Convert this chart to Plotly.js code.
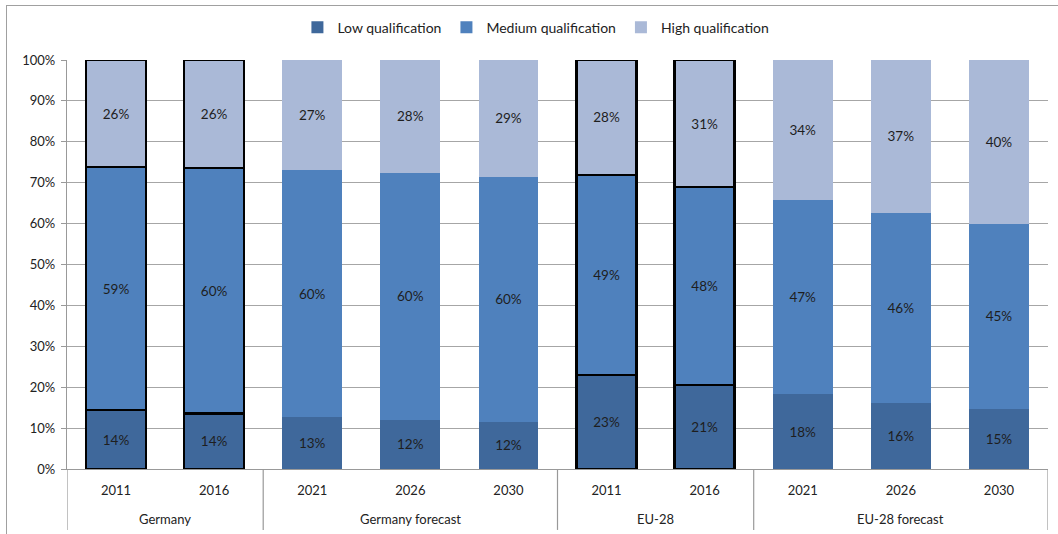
<!DOCTYPE html>
<html>
<head>
<meta charset="utf-8">
<script src="https://cdn.plot.ly/plotly-3.0.1.min.js"></script>
<style>
html,body{margin:0;padding:0;background:#fff;}
#wrap{position:absolute;left:6px;top:5px;width:1060px;height:540px;border:1.5px solid #a0a0a0;box-sizing:border-box;}
#chart{position:absolute;left:0;top:0;width:1058px;height:534px;}
</style>
</head>
<body>
<div id="wrap"></div>
<div id="chart"></div>
<script>
const groups = ["Germany","Germany","Germany forecast","Germany forecast","Germany forecast","EU-28","EU-28","EU-28 forecast","EU-28 forecast","EU-28 forecast"];
const years = ["2011","2016","2021","2026","2030","2011","2016","2021","2026","2030"];
const lowQ = [14.4, 13.6, 12.7, 12.0, 11.5, 23.0, 20.5, 18.3, 16.2, 14.7];
const medQ = [59.4, 60.0, 60.4, 60.4, 59.9, 48.9, 48.4, 47.4, 46.4, 45.2];
const highQ = [26.2, 26.4, 26.9, 27.6, 28.6, 28.1, 31.1, 34.3, 37.4, 40.1];
const actual = [true, true, false, false, false, true, true, false, false, false];

const colors = {low:"#3F689B", med:"#4F81BD", high:"#AAB9D7"};
const lineW = actual.map(a => a ? 2.5 : 0);
const cats = groups.map((g, i) => g + " " + years[i]);

function mk(name, vals, color){
  return {
    type:"bar", name:name,
    x:cats,
    y:vals.map(v => v/100),
    text:vals.map(v => Math.round(v) + "%"),
    textposition:"inside", insidetextanchor:"middle",
    textfont:{family:"Lato, sans-serif", size:13.5, color:"#1e1e1e"},
    constraintext:"none",
    marker:{color:color, line:{color:"#000", width:lineW}},
    showlegend:false,
    hoverinfo:"skip"
  };
}
function lg(name, color){
  return {type:"bar", name:name, x:[cats[0]], y:[null], marker:{color:color}, showlegend:true, hoverinfo:"skip"};
}
const data = [
  mk("Low qualification", lowQ, colors.low),
  mk("Medium qualification", medQ, colors.med),
  mk("High qualification", highQ, colors.high),
  lg("Low qualification", colors.low),
  lg("Medium qualification", colors.med),
  lg("High qualification", colors.high)
];

// group spans from the groups array
const spans = [];
groups.forEach((g, i) => {
  if (!spans.length || spans[spans.length-1].name !== g) spans.push({name:g, start:i, end:i});
  else spans[spans.length-1].end = i;
});
const shapes = [];
const annotations = [];
const divBottom = -0.149;
spans.forEach((s, k) => {
  if (k === 0) shapes.push({type:"line", xref:"x", yref:"paper", x0:s.start-0.5, x1:s.start-0.5, y0:0, y1:divBottom, line:{color:"#999", width:1.2}});
  shapes.push({type:"line", xref:"x", yref:"paper", x0:s.end+0.5, x1:s.end+0.5, y0:0, y1:divBottom, line:{color:"#999", width:1.2}});
  annotations.push({xref:"x", yref:"paper", x:(s.start+s.end)/2, y:-0.122, yanchor:"middle", xanchor:"center", showarrow:false, text:s.name, font:{size:13, color:"#222"}});
});

const layout = {
  width:1058, height:534,
  margin:{l:67, r:10, t:60, b:65},
  paper_bgcolor:"rgba(0,0,0,0)", plot_bgcolor:"#fff",
  barmode:"stack", bargap:0.39,
  font:{family:"Lato, sans-serif", size:13, color:"#222"},
  showlegend:true,
  legend:{orientation:"h", x:0.478, xanchor:"center", y:1.04, yanchor:"bottom", font:{size:14}, traceorder:"normal", itemwidth:30},
  xaxis:{type:"category", range:[-0.5, 9.5], tickvals:cats, ticktext:years, showline:true, linecolor:"#999", linewidth:1.2, ticks:"outside", ticklen:9, tickcolor:"rgba(0,0,0,0)", tickfont:{size:13}, showgrid:false},
  yaxis:{range:[0,1], dtick:0.1, tickformat:".0%", showgrid:true, gridcolor:"#a6a6a6", gridwidth:1, showline:true, linecolor:"#999", linewidth:1.2, ticks:"outside", ticklen:5, tickcolor:"#999", zeroline:false, tickfont:{size:13}, ticklabelstandoff:3},
  shapes:shapes,
  annotations:annotations
};
Plotly.newPlot("chart", data, layout, {displayModeBar:false, staticPlot:true});
</script>
</body>
</html>
